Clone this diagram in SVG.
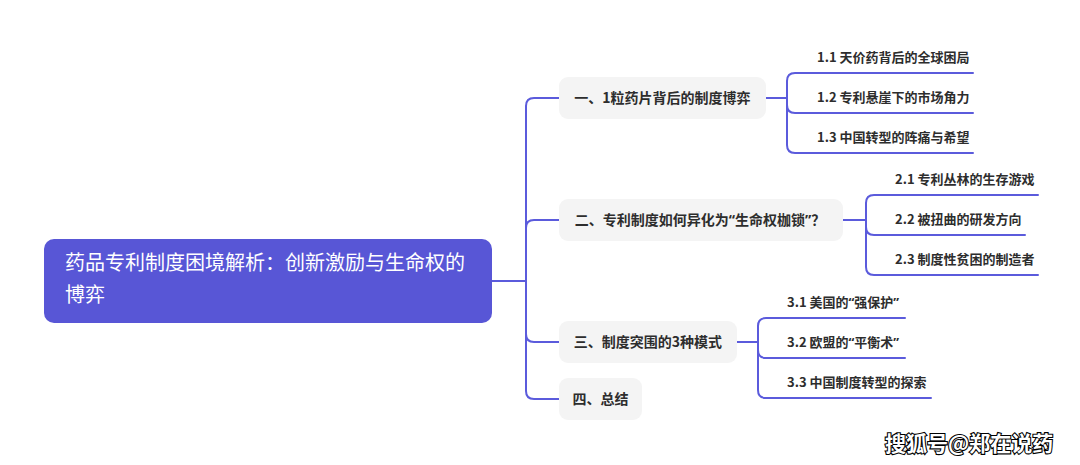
<svg xmlns="http://www.w3.org/2000/svg" width="1080" height="465" viewBox="0 0 1080 465">
<style>
text{font-family:"Noto Sans CJK SC","Noto Sans",sans-serif}
.q{font-family:"Noto Sans","Noto Sans CJK SC",sans-serif}
.root{fill:#5856d6}
.rt{fill:#ffffff;font-size:20px}
.box{fill:#f4f4f4}
.t1{fill:#2d2d2d;font-size:14px;font-weight:bold;text-anchor:middle}
.t2{fill:#2d2d2d;font-size:13px;font-weight:bold}
.ln{fill:none;stroke:#5b5bdc;stroke-width:2;stroke-linecap:round}
.wm{fill:#ffffff;stroke:#000000;stroke-width:2.2;paint-order:stroke;font-size:21px;font-weight:bold}
</style>
<rect width="1080" height="465" fill="#ffffff"/>
<g id="connectors">
<path class="ln" d="M492,281 H526 V106 Q526,98 534,98 H559"/>
<path class="ln" d="M492,281 H526 V228 Q526,220 534,220 H559"/>
<path class="ln" d="M492,281 H526 V334 Q526,342 534,342 H559"/>
<path class="ln" d="M492,281 H526 V391 Q526,399 534,399 H559"/>
<path class="ln" d="M766,98 H787 V81 Q787,73 795,73 H973"/>
<path class="ln" d="M787,98 V105 Q787,113 795,113 H973"/>
<path class="ln" d="M787,98 V145 Q787,153 795,153 H973"/>
<path class="ln" d="M843,220 H866 V203 Q866,195 874,195 H1038"/>
<path class="ln" d="M866,220 V227 Q866,235 874,235 H1025"/>
<path class="ln" d="M866,220 V267 Q866,275 874,275 H1038"/>
<path class="ln" d="M737,342 H758 V326 Q758,318 766,318 H905"/>
<path class="ln" d="M758,342 V350 Q758,358 766,358 H905"/>
<path class="ln" d="M758,342 V390 Q758,398 766,398 H931"/>
</g>
<g id="root">
<rect class="root" x="44" y="239" width="448" height="84" rx="10"/>
<text class="rt" x="65" y="270">药品专利制度困境解析：创新激励与生命权的</text>
<text class="rt" x="65" y="302">博弈</text>
</g>
<g id="n1">
<rect class="box" x="559" y="77" width="207" height="42" rx="9"/>
<text class="t1" x="662.5" y="103">一、1粒药片背后的制度博弈</text>
</g>
<g id="n1-1"><text class="t2" x="817" y="62">1.1 天价药背后的全球困局</text></g>
<g id="n1-2"><text class="t2" x="817" y="102">1.2 专利悬崖下的市场角力</text></g>
<g id="n1-3"><text class="t2" x="817" y="142">1.3 中国转型的阵痛与希望</text></g>
<g id="n2">
<rect class="box" x="559" y="199" width="284" height="42" rx="9"/>
<text class="t1" x="700" y="225">二、专利制度如何异化为<tspan class="q">“</tspan>生命权枷锁<tspan class="q">”</tspan>？</text>
</g>
<g id="n2-1"><text class="t2" x="895" y="184">2.1 专利丛林的生存游戏</text></g>
<g id="n2-2"><text class="t2" x="895" y="224">2.2 被扭曲的研发方向</text></g>
<g id="n2-3"><text class="t2" x="895" y="264">2.3 制度性贫困的制造者</text></g>
<g id="n3">
<rect class="box" x="559" y="321" width="178" height="42" rx="9"/>
<text class="t1" x="648" y="347">三、制度突围的3种模式</text>
</g>
<g id="n3-1"><text class="t2" x="787" y="307">3.1 美国的<tspan class="q">“</tspan>强保护<tspan class="q">”</tspan></text></g>
<g id="n3-2"><text class="t2" x="787" y="347">3.2 欧盟的<tspan class="q">“</tspan>平衡术<tspan class="q">”</tspan></text></g>
<g id="n3-3"><text class="t2" x="787" y="387">3.3 中国制度转型的探索</text></g>
<g id="n4">
<rect class="box" x="559" y="378" width="83" height="42" rx="9"/>
<text class="t1" x="600.5" y="404">四、总结</text>
</g>
<text class="wm" x="885" y="451">搜狐号@郑在说药</text>
</svg>
